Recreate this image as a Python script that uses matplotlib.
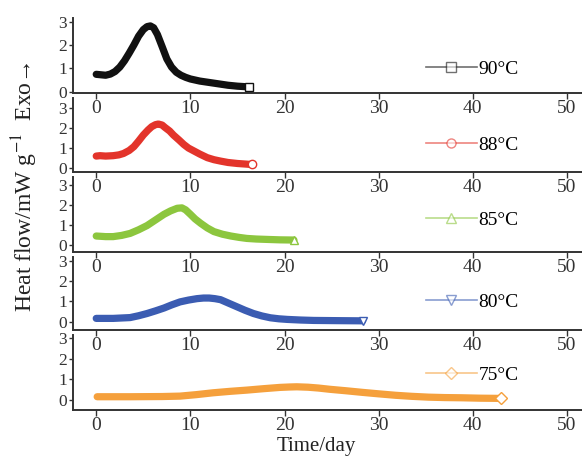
import matplotlib.pyplot as plt
from matplotlib.lines import Line2D

plt.rcParams['font.family'] = ['Liberation Serif', 'DejaVu Serif']
plt.rcParams['mathtext.fontset'] = 'stix'

# (time in days, heat flow in mW/g)
t_90 = [0, 0.5, 1.0, 1.5, 2.0, 2.5, 3.0, 3.5, 4.0, 4.5, 5.0, 5.4, 5.75, 6.1, 6.5, 7.0,
        7.5, 8.0, 8.5, 9.0, 9.5, 10.0, 11.0, 12.0, 13.0, 14.0, 15.0, 16.2]
hf_90 = [0.74, 0.72, 0.70, 0.75, 0.86, 1.05, 1.32, 1.65, 2.0, 2.38, 2.66, 2.79, 2.82, 2.74,
         2.45, 1.93, 1.40, 1.05, 0.83, 0.70, 0.61, 0.54, 0.45, 0.39, 0.33, 0.27, 0.23, 0.20]

t_88 = [0, 0.4, 1.0, 1.8, 2.4, 2.9, 3.5, 4.0, 4.5, 5.0, 5.5, 5.9, 6.3, 6.6, 7.0, 7.3, 7.8,
        8.2, 8.8, 9.3, 9.8, 10.4, 11.0, 11.8, 12.5, 13.2, 14.0, 15.0, 16.5]
hf_88 = [0.60, 0.62, 0.60, 0.62, 0.66, 0.73, 0.88, 1.07, 1.35, 1.65, 1.90, 2.07, 2.17, 2.20,
         2.15, 2.03, 1.85, 1.65, 1.40, 1.18, 1.00, 0.85, 0.70, 0.52, 0.42, 0.35, 0.28, 0.23, 0.18]

t_85 = [0, 1.0, 1.8, 2.7, 3.6, 4.5, 5.4, 6.3, 7.2, 7.9, 8.6, 9.1, 9.5, 10.0, 10.5, 11.1,
        11.8, 12.5, 13.4, 14.3, 15.2, 16.0, 17.0, 18.2, 19.5, 21.0]
hf_85 = [0.45, 0.42, 0.42, 0.48, 0.58, 0.76, 0.97, 1.25, 1.53, 1.70, 1.83, 1.85, 1.75, 1.53,
         1.30, 1.08, 0.85, 0.67, 0.54, 0.45, 0.38, 0.33, 0.30, 0.28, 0.26, 0.25]

t_80 = [0, 1.8, 3.6, 4.5, 5.4, 6.3, 7.2, 8.0, 8.9, 9.8, 10.7, 11.4, 12.0, 12.6, 13.2, 14.0,
        15.0, 15.8, 16.7, 17.6, 18.5, 19.4, 20.3, 21.7, 23.1, 25.5, 28.3]
hf_80 = [0.17, 0.17, 0.21, 0.30, 0.41, 0.54, 0.68, 0.83, 0.98, 1.07, 1.14, 1.17, 1.17, 1.14,
         1.09, 0.93, 0.73, 0.57, 0.41, 0.29, 0.20, 0.15, 0.12, 0.09, 0.07, 0.06, 0.05]

t_75 = [0.1, 3.6, 7.0, 8.9, 10.6, 12.4, 14.2, 16.0, 17.8, 19.5, 20.5, 21.3, 22.5, 23.6, 24.8,
        26.5, 28.3, 30.0, 31.8, 33.5, 35.3, 37.0, 38.8, 40.8, 43.0]
hf_75 = [0.16, 0.16, 0.17, 0.19, 0.26, 0.35, 0.42, 0.48, 0.55, 0.61, 0.63, 0.64, 0.62, 0.58,
         0.52, 0.45, 0.37, 0.30, 0.23, 0.18, 0.14, 0.12, 0.11, 0.09, 0.08]

labels = ['90°C', '88°C', '85°C', '80°C', '75°C']
colors = ['#111111', '#e3342b', '#8cc63e', '#3b5cb2', '#f5a03c']
markers = ['s', 'o', '^', 'v', 'D']
series = [(t_90, hf_90), (t_88, hf_88), (t_85, hf_85), (t_80, hf_80), (t_75, hf_75)]

# panel placement in pixels: top, bottom, ylim
panels = [(18, 92.7, (-0.05, 3.16)),
          (98, 172.3, (-0.21, 3.5)),
          (176.7, 251.7, (-0.33, 3.4)),
          (256.7, 330, (-0.4, 3.2)),
          (335, 410, (-0.48, 3.14))]
legend_y = [69, 145, 220, 302, 375]

W, H = 582, 457
fig = plt.figure(figsize=(W / 100, H / 100), dpi=100)
left = 72.7 / W
width = (W - 72.7) / W

for i, ((top, bot, ylim), (t, hf)) in enumerate(zip(panels, series)):
    ax = fig.add_axes([left, 1 - bot / H, width, (bot - top) / H])
    ax.set_facecolor('none')
    ax.plot(t, hf, color=colors[i], lw=5.2, solid_capstyle='round',
            solid_joinstyle='round', zorder=2)
    ax.plot(t[-1], hf[-1], marker=markers[i], ms=6, mfc='white', mec=colors[i],
            mew=1, ls='none', zorder=3)
    ax.set_xlim(-2.5, 51.6)
    ax.set_ylim(*ylim)
    ax.set_yticks([0, 1, 2, 3])
    ax.set_xticks([0, 10, 20, 30, 40, 50])
    for s in ['top', 'right']:
        ax.spines[s].set_visible(False)
    for s in ['left', 'bottom']:
        ax.spines[s].set_linewidth(1.4)
        ax.spines[s].set_color('#333333')
    ax.tick_params(axis='x', labelsize=14, length=4, width=1, pad=1, colors='#333333')
    ax.tick_params(axis='y', labelsize=12.5, length=3, width=1, pad=1, colors='#333333')

    h = Line2D([], [], color=colors[i], alpha=0.6, lw=1.2, marker=markers[i], ms=6.5,
               mfc='white', mec=colors[i])
    ax.legend([h], [labels[i]], loc='center left', frameon=False, fontsize=14,
              handlelength=2.6, handletextpad=0.1, borderpad=0, borderaxespad=0,
              bbox_to_anchor=((426 - 72.7) / (W - 72.7), (bot - legend_y[i]) / (bot - top)))

fig.text(316 / W, 1 - 446 / H, 'Time/day', ha='center', va='center', fontsize=15, color='#222222')
fig.text(25 / W, 1 - 187 / H, 'Heat flow/mW g$^{-1}$  Exo\u2192', ha='center', va='center',
         rotation=90, fontsize=17, color='#222222')

fig.savefig('out.png', dpi=100)
